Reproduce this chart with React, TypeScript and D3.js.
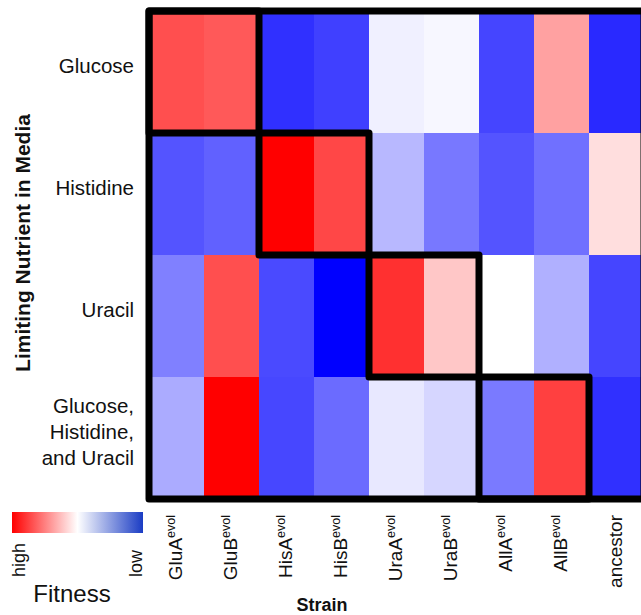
import React from "react";
import * as d3 from "d3";

// strains (columns) and media (rows)
const strains = ["GluA", "GluB", "HisA", "HisB", "UraA", "UraB", "AllA", "AllB", "ancestor"];
const evolved = [true, true, true, true, true, true, true, true, false];
const media = ["Glucose", "Histidine", "Uracil", "Glucose, Histidine, and Uracil"];
const mediaLines = [["Glucose"], ["Histidine"], ["Uracil"], ["Glucose,", "Histidine,", "and Uracil"]];

// relative fitness, +1 = high (red), -1 = low (blue)
const glucose = [0.69, 0.65, -0.81, -0.75, -0.06, -0.03, -0.73, 0.37, -0.84];
const histidine = [-0.67, -0.62, 1.0, 0.72, -0.28, -0.53, -0.67, -0.56, 0.13];
const uracil = [-0.5, 0.69, -0.71, -1.0, 0.81, 0.22, 0.0, -0.31, -0.73];
const allThree = [-0.33, 1.0, -0.72, -0.58, -0.09, -0.16, -0.52, 0.75, -0.81];
const fitness = [glucose, histidine, uracil, allThree];

// outlined blocks: strains evolved in that medium
const blocks = [
  { row: "Glucose", from: "GluA", to: "GluB" },
  { row: "Histidine", from: "HisA", to: "HisB" },
  { row: "Uracil", from: "UraA", to: "UraB" },
  { row: "Glucose, Histidine, and Uracil", from: "AllA", to: "AllB" }
];

const font = "'Liberation Sans', Arial, sans-serif";

export default function App() {
  const width = 641;
  const height = 615;
  const left = 149;
  const top = 11;
  const cellW = 55;
  const cellH = 122;

  const x = d3
    .scaleBand()
    .domain(strains)
    .range([left, left + cellW * strains.length]);
  const y = d3
    .scaleBand()
    .domain(media)
    .range([top, top + cellH * media.length]);
  const color = d3
    .scaleLinear<string>()
    .domain([-1, 0, 1])
    .range(["#0000ff", "#ffffff", "#ff0000"]);

  const cells = [];
  fitness.forEach((row, i) => {
    row.forEach((v, j) => {
      cells.push({ m: media[i], s: strains[j], v });
    });
  });

  return (
    <svg
      width={width}
      height={height}
      style={{ position: "absolute", left: 0, top: 0, background: "#fff" }}
      fontFamily={font}
    >
      <defs>
        <linearGradient id="fitGrad" x1="0" x2="1" y1="0" y2="0">
          <stop offset="0" stopColor="#ff0000" />
          <stop offset="0.5" stopColor="#ffffff" />
          <stop offset="1" stopColor="#1a3cc4" />
        </linearGradient>
      </defs>

      {cells.map((c, i) => (
        <rect
          key={i}
          x={x(c.s)}
          y={y(c.m)}
          width={x.bandwidth() + 0.5}
          height={y.bandwidth() + 0.5}
          fill={color(c.v)}
        />
      ))}

      {/* block outlines */}
      {blocks.map((b, i) => (
        <rect
          key={i}
          x={x(b.from)}
          y={y(b.row)}
          width={x(b.to) + x.bandwidth() - x(b.from)}
          height={y.bandwidth()}
          fill="none"
          stroke="#000"
          strokeWidth={7}
          strokeLinejoin="round"
        />
      ))}
      <rect
        x={left}
        y={top}
        width={cellW * strains.length}
        height={cellH * media.length}
        fill="none"
        stroke="#000"
        strokeWidth={7}
        strokeLinejoin="round"
      />

      {/* row labels */}
      {mediaLines.map((lines, i) => {
        const cy = y(media[i]) + y.bandwidth() / 2;
        const lh = 26;
        const y0 = cy - ((lines.length - 1) * lh) / 2 + 1;
        return (
          <text key={i} textAnchor="end" fontSize={20.5} fill="#111">
            {lines.map((l, k) => (
              <tspan key={k} x={134} y={y0 + k * lh}>
                {l}
              </tspan>
            ))}
          </text>
        );
      })}

      <text
        transform="translate(30,243) rotate(-90)"
        textAnchor="middle"
        fontSize={21}
        fontWeight="bold"
        fill="#111"
      >
        Limiting Nutrient in Media
      </text>

      {/* column labels */}
      {strains.map((s, j) => {
        const cx = x(s) + x.bandwidth() / 2 + 5;
        return (
          <text
            key={s}
            transform={`translate(${cx},515) rotate(-90)`}
            textAnchor="end"
            fontSize={19}
            fill="#111"
          >
            {s}
            {evolved[j] && (
              <tspan fontSize={12.5} dy={-7}>
                evol
              </tspan>
            )}
          </text>
        );
      })}

      <text x={322} y={611} textAnchor="middle" fontSize={18} fontWeight="bold" fill="#111">
        Strain
      </text>

      {/* legend */}
      <rect x={12} y={512} width={131} height={21} fill="url(#fitGrad)" />
      <text transform="translate(25,577) rotate(-90)" fontSize={18} fill="#111">
        high
      </text>
      <text transform="translate(142,577) rotate(-90)" fontSize={18} fill="#111">
        low
      </text>
      <text x={72} y={602} textAnchor="middle" fontSize={24} fill="#111">
        Fitness
      </text>
    </svg>
  );
}
